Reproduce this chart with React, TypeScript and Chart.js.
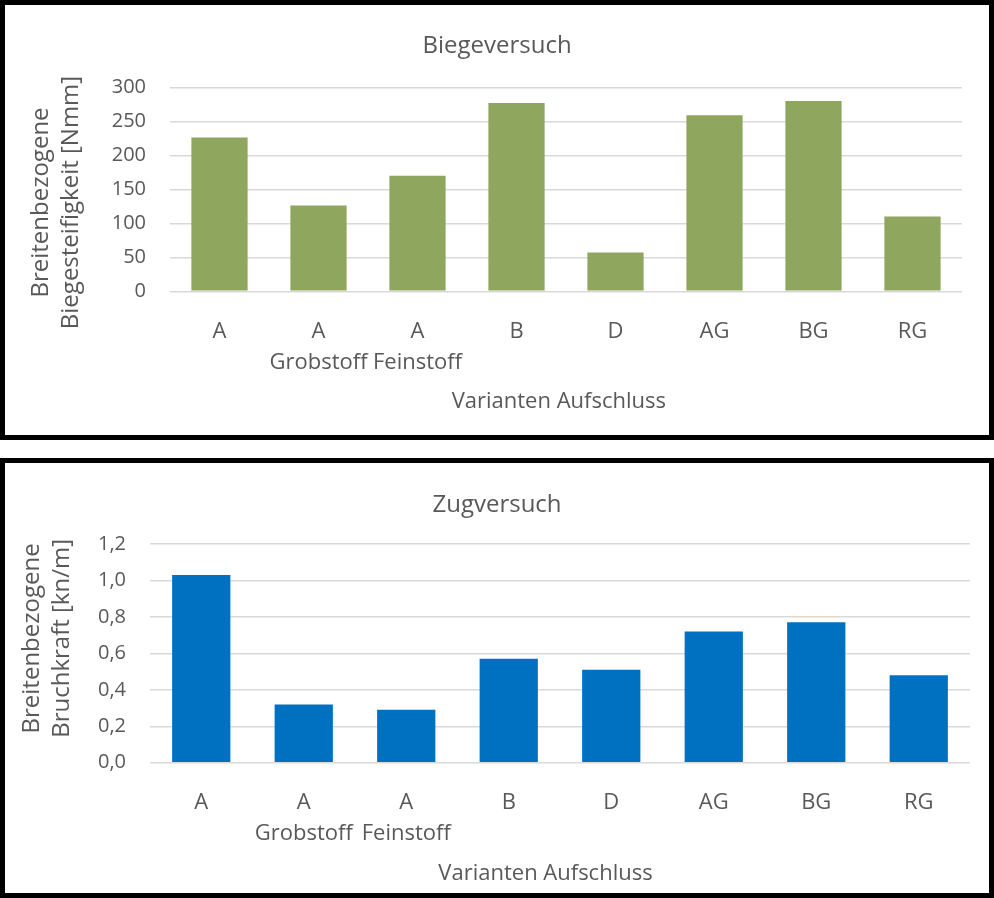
import React, { useEffect, useRef } from "react";
import { Chart, registerables } from "chart.js";

Chart.register(...registerables);

// ---------- data ----------
const categories = ["A", "A", "A", "B", "D", "AG", "BG", "RG"];
const subLabels = ["", "Grobstoff", "Feinstoff", "", "", "", "", ""];
const biegeValues = [226, 126, 170, 277, 57, 259, 280, 110];
const zugValues = [1.03, 0.32, 0.29, 0.57, 0.51, 0.72, 0.77, 0.48];
const biegeTitle = "Biegeversuch";
const zugTitle = "Zugversuch";
const biegeYTitle = ["Breitenbezogene", "Biegesteifigkeit [Nmm]"];
const zugYTitle = ["Breitenbezogene", "Bruchkraft [kn/m]"];
const xTitle = "Varianten Aufschluss";

const labels = categories.map((c, i) => (subLabels[i] ? [c, subLabels[i]] : c));

// ---------- styles ----------
const FONT = '"Open Sans", "Noto Sans", sans-serif';
const TEXT = "#595959";
const GRID = "#d9d9d9";

const axisTitlePlugin = {
  id: "axisTitles",
  afterDraw(chart: any, _args: any, opts: any) {
    const ctx = chart.ctx as CanvasRenderingContext2D;
    ctx.save();
    ctx.fillStyle = opts.color;
    ctx.textAlign = "center";
    ctx.textBaseline = "middle";
    // y-axis title (rotated)
    ctx.font = `${opts.yFontSize}px ${FONT}`;
    (opts.yLines as string[]).forEach((line: string, i: number) => {
      ctx.save();
      ctx.translate(opts.yX[i], opts.yY);
      ctx.rotate(-Math.PI / 2);
      ctx.fillText(line, 0, 0);
      ctx.restore();
    });
    // x-axis title
    ctx.font = `${opts.xFontSize}px ${FONT}`;
    ctx.fillText(opts.xText, opts.xX, opts.xY);
    ctx.restore();
  },
};

type Spec = {
  title: string;
  values: number[];
  color: string;
  max: number;
  step: number;
  fmt: (v: number) => string;
  yLines: string[];
  padRight: number;
  titlePadTop: number;
  titlePadBottom: number;
  yWidth: number;
  xHeight: number;
  yX: number[];
  yY: number;
  xX: number;
  xY: number;
};

function BarPanel({ spec, top }: { spec: Spec; top: number }) {
  const ref = useRef<HTMLCanvasElement>(null);
  useEffect(() => {
    const chart = new Chart(ref.current as HTMLCanvasElement, {
      type: "bar",
      data: {
        labels,
        datasets: [
          {
            data: spec.values,
            backgroundColor: spec.color,
            borderWidth: 0,
            barPercentage: 0.568,
            categoryPercentage: 1,
            yAxisID: "y",
          },
        ],
      },
      options: {
        animation: false,
        responsive: false,
        layout: { padding: 0 },
        plugins: {
          legend: { display: false },
          tooltip: { enabled: false },
          title: {
            display: true,
            text: spec.title,
            color: TEXT,
            font: { family: FONT, size: 24, weight: "normal", lineHeight: 1.2 },
            padding: { top: spec.titlePadTop, bottom: spec.titlePadBottom },
          },
          axisTitles: {
            color: TEXT,
            yFontSize: 24,
            xFontSize: 22,
            yLines: spec.yLines,
            yX: spec.yX,
            yY: spec.yY,
            xText: xTitle,
            xX: spec.xX,
            xY: spec.xY,
          },
        } as any,
        scales: {
          x: {
            grid: { display: false },
            border: { display: false },
            ticks: {
              color: TEXT,
              font: { family: FONT, size: 22, lineHeight: 1.42 },
              padding: 16.5,
              maxRotation: 0,
              autoSkip: false,
            },
            afterFit: (s: any) => {
              s.height = spec.xHeight;
            },
          },
          y: {
            min: 0,
            max: spec.max,
            grid: { color: GRID, lineWidth: 1.5, drawTicks: false },
            border: { display: false },
            ticks: {
              stepSize: spec.step,
              color: TEXT,
              font: { family: FONT, size: 20 },
              padding: 24,
              callback: (v: any) => spec.fmt(Number(v)),
            },
            afterFit: (s: any) => {
              s.width = spec.yWidth;
            },
          },
          spacer: {
            type: "linear",
            position: "right",
            display: true,
            grid: { display: false, drawTicks: false },
            border: { display: false },
            ticks: { display: false },
            afterFit: (s: any) => {
              s.width = spec.padRight;
            },
          },
        } as any,
      },
      plugins: [axisTitlePlugin as any],
    });
    return () => chart.destroy();
  }, []);
  return (
    <div
      style={{
        position: "absolute",
        left: 0,
        top,
        width: 994,
        height: 440,
        boxSizing: "border-box",
        border: "5px solid #000",
        background: "#fff",
      }}
    >
      <canvas ref={ref} width={984} height={430} style={{ display: "block", width: 984, height: 430 }} />
    </div>
  );
}

const topSpec: Spec = {
  title: biegeTitle,
  values: biegeValues,
  color: "#8fa65f",
  max: 300,
  step: 50,
  fmt: (v) => String(Math.round(v)),
  yLines: biegeYTitle,
  padRight: 27,
  titlePadTop: 27,
  titlePadBottom: 26.5,
  yWidth: 165,
  xHeight: 143.7,
  yX: [36, 66],
  yY: 197.5,
  xX: 553.8,
  xY: 396.5,
};

const bottomSpec: Spec = {
  title: zugTitle,
  values: zugValues,
  color: "#0070c0",
  max: 1.2,
  step: 0.2,
  fmt: (v) => v.toFixed(1).replace(".", ","),
  yLines: zugYTitle,
  padRight: 19,
  titlePadTop: 28.2,
  titlePadBottom: 24,
  yWidth: 145,
  xHeight: 130.3,
  yX: [27, 57.3],
  yY: 175.4,
  xX: 540.5,
  xY: 410.6,
};

export default function App() {
  return (
    <div style={{ position: "absolute", left: 0, top: 0, width: 994, height: 898, background: "#fff" }}>
      <BarPanel spec={topSpec} top={0} />
      <BarPanel spec={bottomSpec} top={458} />
    </div>
  );
}
